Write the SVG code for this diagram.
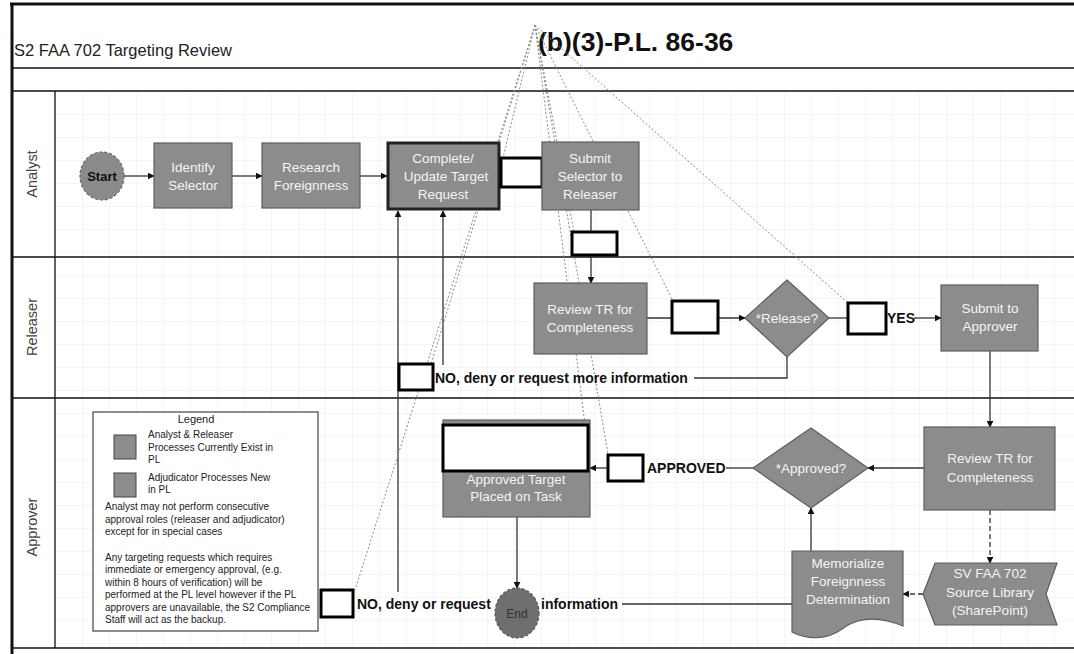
<svg xmlns="http://www.w3.org/2000/svg" width="1074" height="654" viewBox="0 0 1074 654">
<style>
text{font-family:"Liberation Sans",Arial,sans-serif}
.box{fill:#8c8c8c;stroke:#5e5e5e;stroke-width:1.2}
.bt{fill:#f4f4f4;font-size:13.5px;text-anchor:middle}
.red{fill:#fff;stroke:#000;stroke-width:3}
.ln{fill:none;stroke:#333;stroke-width:1.3}
.dash{fill:none;stroke:#333;stroke-width:1.3;stroke-dasharray:5,3}
.dot{fill:none;stroke:#8a8a8a;stroke-width:1;stroke-dasharray:2,2}
.lbl{font-size:14px;font-weight:bold;fill:#111}
.lane{font-size:14.5px;fill:#444;text-anchor:middle}
.lg{font-size:10px;fill:#222}
.frame{stroke:#111;fill:none}
</style>
<defs>
<marker id="ah" viewBox="0 0 10 10" refX="9" refY="5" markerWidth="7" markerHeight="7" orient="auto" markerUnits="userSpaceOnUse">
<path d="M0,0 L10,5 L0,10 Z" fill="#111"/>
</marker>
<pattern id="grid" width="27" height="23" patternUnits="userSpaceOnUse" x="55" y="91">
<path d="M0,0 V23 M0,0 H27" fill="none" stroke="#ebebeb" stroke-width="1"/>
</pattern>
</defs>
<rect width="1074" height="654" fill="#fff"/>
<rect x="55" y="91" width="1019" height="557" fill="url(#grid)"/>

<g id="frame">
<line class="frame" x1="10" y1="4" x2="1074" y2="4" stroke-width="3"/>
<line class="frame" x1="12" y1="4" x2="12" y2="654" stroke-width="3"/>
<line class="frame" x1="12" y1="68" x2="1074" y2="68" stroke-width="1.3" stroke="#444"/>
<line class="frame" x1="12" y1="91" x2="1074" y2="91" stroke-width="1.3" stroke="#444"/>
<line class="frame" x1="12" y1="257" x2="1074" y2="257" stroke-width="1.3" stroke="#333"/>
<line class="frame" x1="12" y1="398" x2="1074" y2="398" stroke-width="1.3" stroke="#333"/>
<line class="frame" x1="12" y1="648" x2="1074" y2="648" stroke-width="1.3" stroke="#333"/>
<line class="frame" x1="55" y1="91" x2="55" y2="648" stroke-width="1.3" stroke="#333"/>
<text x="14" y="56" font-size="16.5" fill="#222">S2 FAA 702 Targeting Review</text>
<text x="538" y="51" font-size="26.5" font-weight="bold" fill="#111">(b)(3)-P.L. 86-36</text>
<text class="lane" transform="translate(37,174) rotate(-90)">Analyst</text>
<text class="lane" transform="translate(37,327) rotate(-90)">Releaser</text>
<text class="lane" transform="translate(37,527) rotate(-90)">Approver</text>
</g>

<g id="connectors">
<line class="ln" x1="124" y1="176" x2="154" y2="176" marker-end="url(#ah)"/>
<line class="ln" x1="232" y1="176" x2="262" y2="176" marker-end="url(#ah)"/>
<line class="ln" x1="360" y1="176" x2="387" y2="176" marker-end="url(#ah)"/>
<line class="ln" x1="499" y1="176" x2="542" y2="176"/>
<line class="ln" x1="591" y1="210" x2="591" y2="283" marker-end="url(#ah)"/>
<line class="ln" x1="647" y1="318" x2="745" y2="318" marker-end="url(#ah)"/>
<line class="ln" x1="829" y1="318" x2="848" y2="318"/>
<line class="ln" x1="914" y1="318" x2="941" y2="318" marker-end="url(#ah)"/>
<polyline class="ln" points="787,357 787,378 694,378"/>
<line class="ln" x1="443" y1="365" x2="443" y2="211" marker-end="url(#ah)"/>
<line class="ln" x1="398" y1="592" x2="398" y2="211" marker-end="url(#ah)"/>
<line class="ln" x1="990" y1="351" x2="990" y2="427" marker-end="url(#ah)"/>
<line class="ln" x1="924" y1="468" x2="868" y2="468" marker-end="url(#ah)"/>
<line class="ln" x1="753" y1="468" x2="726" y2="468"/>
<line class="ln" x1="608" y1="468" x2="590" y2="468" marker-end="url(#ah)"/>
<line class="ln" x1="517" y1="517" x2="517" y2="588" marker-end="url(#ah)"/>
<line class="ln" x1="811" y1="551" x2="811" y2="508" marker-end="url(#ah)"/>
<line class="dash" x1="990" y1="510" x2="990" y2="563" marker-end="url(#ah)"/>
<line class="dash" x1="923" y1="594" x2="903" y2="594" marker-end="url(#ah)"/>
<line class="ln" x1="792" y1="604" x2="622" y2="604"/>
<line class="dot" x1="535" y1="25" x2="355" y2="590"/>
<line class="dot" x1="535" y1="25" x2="431" y2="364"/>
<line class="dot" x1="535" y1="25" x2="503" y2="158"/>
<line class="dot" x1="535" y1="25" x2="574" y2="232"/>
<line class="dot" x1="535" y1="25" x2="585" y2="425"/>
<line class="dot" x1="535" y1="25" x2="608" y2="454"/>
<line class="dot" x1="535" y1="25" x2="672" y2="299"/>
<line class="dot" x1="535" y1="25" x2="848" y2="303"/>
</g>

<g id="start">
<ellipse cx="102" cy="176" rx="22" ry="24" fill="#8a8a8a" stroke="#666" stroke-width="1.2" stroke-dasharray="3,2"/>
<text x="102" y="181" font-size="13" font-weight="bold" text-anchor="middle" fill="#111">Start</text>
</g>
<g id="identify">
<rect class="box" x="154" y="143" width="78" height="65"/>
<text class="bt" x="193" y="172">Identify</text>
<text class="bt" x="193" y="190">Selector</text>
</g>
<g id="research">
<rect class="box" x="262" y="143" width="98" height="65"/>
<text class="bt" x="311" y="172">Research</text>
<text class="bt" x="311" y="190">Foreignness</text>
</g>
<g id="complete">
<rect x="388" y="143" width="111" height="66" fill="#8c8c8c" stroke="#222" stroke-width="3"/>
<text class="bt" x="443" y="163">Complete/</text>
<text class="bt" x="446" y="181">Update Target</text>
<text class="bt" x="443" y="199">Request</text>
</g>
<g id="redact1"><rect class="red" x="501" y="158" width="41" height="29"/></g>
<g id="submit">
<rect class="box" x="542" y="142" width="97" height="68"/>
<text class="bt" x="590" y="163">Submit</text>
<text class="bt" x="590" y="181">Selector to</text>
<text class="bt" x="590" y="199">Releaser</text>
</g>
<g id="redact2"><rect class="red" x="572" y="232" width="45" height="23"/></g>

<g id="review1">
<rect class="box" x="534" y="283" width="113" height="71"/>
<text class="bt" x="590" y="314">Review TR for</text>
<text class="bt" x="590" y="332">Completeness</text>
</g>
<g id="redact3"><rect class="red" x="672" y="301" width="46" height="32"/></g>
<g id="release">
<polygon class="box" points="787,280 829,318 787,357 745,318"/>
<text class="bt" x="787" y="323" font-size="13">*Release?</text>
</g>
<g id="redact4"><rect class="red" x="848" y="303" width="38" height="31"/></g>
<g id="yes"><text class="lbl" x="887" y="323">YES</text></g>
<g id="submitapp">
<rect class="box" x="941" y="285" width="97" height="66"/>
<text class="bt" x="990" y="313">Submit to</text>
<text class="bt" x="990" y="331">Approver</text>
</g>
<g id="no1">
<text class="lbl" x="435" y="383">NO, deny or request more information</text>
<rect class="red" x="399" y="364" width="34" height="26"/>
</g>

<g id="legend">
<rect x="93" y="412" width="225" height="219" fill="#fff" stroke="#444" stroke-width="1.2"/>
<text x="196" y="423" font-size="11" text-anchor="middle" fill="#222">Legend</text>
<rect x="114" y="435" width="22" height="24" fill="#8c8c8c" stroke="#444"/>
<text class="lg" x="148" y="438">Analyst &amp; Releaser</text>
<text class="lg" x="148" y="451">Processes Currently Exist in</text>
<text class="lg" x="148" y="463">PL</text>
<rect x="114" y="473" width="22" height="24" fill="#8c8c8c" stroke="#444"/>
<text class="lg" x="148" y="481">Adjudicator Processes New</text>
<text class="lg" x="148" y="493">in PL</text>
<text class="lg" x="105" y="510">Analyst may not perform consecutive</text>
<text class="lg" x="105" y="523">approval roles (releaser and adjudicator)</text>
<text class="lg" x="105" y="535">except for in special cases</text>
<text class="lg" x="105" y="561">Any targeting requests which requires</text>
<text class="lg" x="105" y="573">immediate or emergency approval, (e.g.</text>
<text class="lg" x="105" y="586">within 8 hours of verification) will be</text>
<text class="lg" x="105" y="598">performed at the PL level however if the PL</text>
<text class="lg" x="105" y="611">approvers are unavailable, the S2 Compliance</text>
<text class="lg" x="105" y="623">Staff will act as the backup.</text>
</g>

<g id="approvedtarget">
<rect class="box" x="443" y="420" width="147" height="97"/>
<text class="bt" x="516" y="484">Approved Target</text>
<text class="bt" x="516" y="501">Placed on Task</text>
<rect class="red" x="443" y="425" width="145" height="46"/>
</g>
<g id="redact5"><rect class="red" x="608" y="455" width="35" height="26"/></g>
<g id="approvedlbl"><text class="lbl" x="647" y="473">APPROVED</text></g>
<g id="approved">
<polygon class="box" points="811,428 868,468 811,508 753,468"/>
<text class="bt" x="811" y="473" font-size="14">*Approved?</text>
</g>
<g id="review2">
<rect class="box" x="924" y="427" width="131" height="83"/>
<text class="bt" x="990" y="463" font-size="14.5">Review TR for</text>
<text class="bt" x="990" y="482" font-size="14.5">Completeness</text>
</g>
<g id="sv">
<polygon class="box" points="935,563 1057,563 1046,594 1057,625 935,625 923,594"/>
<text class="bt" x="990" y="578">SV FAA 702</text>
<text class="bt" x="990" y="597">Source Library</text>
<text class="bt" x="990" y="615">(SharePoint)</text>
</g>
<g id="memorialize">
<path class="box" d="M792,551 H903 V626 C872,613 852,621 842,629 C827,640 807,640 792,632 Z"/>
<text class="bt" x="848" y="568">Memorialize</text>
<text class="bt" x="848" y="586">Foreignness</text>
<text class="bt" x="848" y="604">Determination</text>
</g>
<g id="no2">
<text class="lbl" x="357" y="609">NO, deny or request</text>
<text class="lbl" x="541" y="609">information</text>
<rect class="red" x="321" y="590" width="32" height="27"/>
</g>
<g id="end">
<ellipse cx="517" cy="613" rx="22" ry="25" fill="#6f6f6f" stroke="#555" stroke-width="1.2" stroke-dasharray="3,2"/>
<text x="517" y="618" font-size="12" text-anchor="middle" fill="#333">End</text>
</g>
</svg>
